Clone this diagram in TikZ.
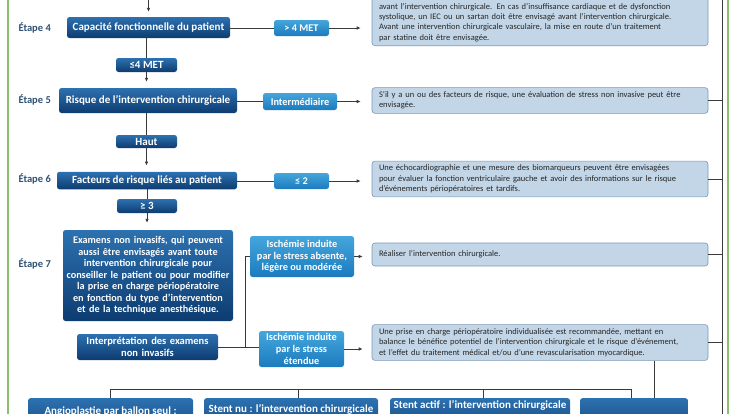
\documentclass[tikz,border=0pt]{standalone}
\usepackage{fontspec}
\setmainfont{Carlito}
\usepackage{xcolor}
\usepackage{tikz}
\usetikzlibrary{positioning, shapes, arrows, calc, arrows.meta, backgrounds}

\definecolor{navytop}{HTML}{2D71B0}
\definecolor{navybot}{HTML}{0D3C70}
\definecolor{skytop}{HTML}{45A6DC}
\definecolor{skybot}{HTML}{1B7BBE}
\definecolor{infofill}{HTML}{C2D6E7}
\definecolor{infoline}{HTML}{7A98B4}
\definecolor{steptext}{HTML}{2F5174}
\definecolor{framegreen}{HTML}{8DBE6C}
\definecolor{wiregray}{HTML}{3A3A3A}

\begin{document}
\begin{tikzpicture}[x=1pt, y=-1pt,
    mainbox/.style={rounded corners=2.5pt, top color=navytop, bottom color=navybot, text=white,
      font=\fontsize{11}{12}\selectfont\bfseries, align=center, inner sep=2pt},
    optbox/.style={rounded corners=2.5pt, top color=skytop, bottom color=skybot, text=white,
      font=\fontsize{10.3}{11.7}\selectfont\bfseries, align=center, inner sep=2pt},
    infobox/.style={rounded corners=3pt, fill=infofill, draw=infoline, line width=0.6pt, text=black!85,
      font=\fontsize{8.5}{10.3}\selectfont, align=left, text width=322pt, inner xsep=7pt, inner ysep=4pt},
    steplabel/.style={text=steptext, font=\fontsize{10.5}{12}\selectfont\bfseries, anchor=west},
    conn/.style={draw=wiregray, line width=0.75pt},
    connarrow/.style={conn, -{Latex[length=4pt,width=3.6pt]}}
  ]
        \useasboundingbox (0,0) rectangle (735,413);
        \clip (0,0) rectangle (735,413);
        % Frame
        \draw[framegreen, line width=1.4pt] (8,-10) -- (8,420);
        \draw[framegreen, line width=1.4pt] (728,-10) -- (728,420);
        % Step labels
        \node[steplabel] (e4) at (15,28) {Étape 4};
        \node[steplabel] (e5) at (15,100) {Étape 5};
        \node[steplabel] (e6) at (15,179) {Étape 6};
        \node[steplabel] (e7) at (15,264) {Étape 7};
        % Main column
        \node[mainbox, minimum width=163pt, minimum height=21pt] (cap) at (148.5,27.5) {Capacité fonctionnelle du patient};
        \node[mainbox, minimum width=61pt, minimum height=14pt] (le4) at (146.5,65) {≤4 MET};
        \node[mainbox, minimum width=178pt, minimum height=25pt] (risk) at (148,100.5) {Risque de l'intervention chirurgicale};
        \node[mainbox, minimum width=61pt, minimum height=13pt] (haut) at (146.5,141.5) {Haut};
        \node[mainbox, minimum width=180pt, minimum height=17.5pt] (fact) at (147,180.5) {Facteurs de risque liés au patient};
        \node[mainbox, minimum width=60pt, minimum height=14pt] (ge3) at (147,206) {≥ 3};
        \node[mainbox, font=\fontsize{10.2}{11.5}\selectfont\bfseries, text width=170pt, inner xsep=0pt, minimum height=91pt] (exam) at (148,275.5) {Examens non invasifs, qui peuvent\\aussi être envisagés avant toute\\intervention chirurgicale pour\\conseiller le patient ou pour modifier\\la prise en charge périopératoire\\en fonction du type d'intervention\\et de la technique anesthésique.};
        \node[mainbox, font=\fontsize{10.5}{11.7}\selectfont\bfseries, text width=137pt, minimum height=26pt] (interp) at (147.5,347) {Interprétation des examens\\non invasifs};
        % Options
        \node[optbox, minimum width=55pt, minimum height=16pt] (gt4) at (301.5,28) {> 4 MET};
        \node[optbox, minimum width=74pt, minimum height=17pt] (inter) at (300,101.5) {Intermédiaire};
        \node[optbox, minimum width=55pt, minimum height=16pt] (le2) at (301.5,181) {≤ 2};
        \node[optbox, minimum width=104pt, minimum height=41pt] (isch1) at (302,256.5) {Ischémie induite\\par le stress absente,\\légère ou modérée};
        \node[optbox, minimum width=85pt, minimum height=36pt] (isch2) at (301.5,349) {Ischémie induite\\par le stress\\étendue};
        % Recommendations
        \node[infobox, anchor=south] (info4) at (540,46) {\rule{0pt}{30pt}avant l'intervention chirurgicale. En cas d'insuffisance cardiaque et de dysfonction\\systolique, un IEC ou un sartan doit être envisagé avant l'intervention chirurgicale.\\Avant une intervention chirurgicale vasculaire, la mise en route d'un traitement\\par statine doit être envisagée.};
        \node[infobox] (info5) at (540,100.5) {S'il y a un ou des facteurs de risque, une évaluation de stress non invasive peut être\\envisagée.};
        \node[infobox] (info6) at (540,179) {Une échocardiographie et une mesure des biomarqueurs peuvent être envisagées\\pour évaluer la fonction ventriculaire gauche et avoir des informations sur le risque\\d'événements périopératoires et tardifs.};
        \node[infobox, minimum height=23pt] (reali) at (540,254.5) {Réaliser l'intervention chirurgicale.};
        \node[infobox] (prise) at (540,342.5) {Une prise en charge périopératoire individualisée est recommandée, mettant en\\balance le bénéfice potentiel de l'intervention chirurgicale et le risque d'événement,\\et l'effet du traitement médical et/ou d'une revascularisation myocardique.};
        % Bottom row
        \node[mainbox, anchor=north, minimum width=165pt, text depth=30pt] (bx1) at (110.5,398) {\rule{0pt}{14pt}Angioplastie par ballon seul :};
        \node[mainbox, anchor=north, minimum width=174pt, text depth=30pt] (bx2) at (291,398) {\rule{0pt}{12.5pt}Stent nu : l'intervention chirurgicale};
        \node[mainbox, anchor=north, minimum width=180pt, text depth=30pt] (bx3) at (480,398) {\rule{0pt}{8pt}Stent actif : l'intervention chirurgicale};
        \node[mainbox, anchor=north, minimum width=108pt, text depth=30pt] (bx4) at (634,398) {\rule{0pt}{10pt}};
        % Vertical flow
        \coordinate (in4) at (148.5,-6);
        \draw[connarrow, shorten >=5pt] (in4) -- (cap.north);
        \draw[conn] (cap.south -| le4.north) -- (le4.north);
        \draw[connarrow, shorten >=6pt] (le4.south) -- (le4.south |- risk.north);
        \draw[conn] (risk.south -| haut.north) -- (haut.north);
        \draw[connarrow, shorten >=6pt] (haut.south) -- (haut.south |- fact.north);
        \draw[conn] (fact.south -| ge3.north) -- (ge3.north);
        \draw[connarrow, shorten >=7pt] (ge3.south) -- (ge3.south |- exam.north);
        % Side branches
        \draw[conn] (cap.east |- gt4.west) -- (gt4.west);
        \draw[connarrow, shorten >=11pt] (gt4.east) -- (gt4.east -| info4.west);
        \draw[conn] (risk.east |- inter.west) -- (inter.west);
        \draw[connarrow, shorten >=11pt] (inter.east) -- (inter.east -| info5.west);
        \draw[conn] (fact.east |- le2.west) -- (le2.west);
        \draw[connarrow, shorten >=11pt] (le2.east) -- (le2.east -| info6.west);
        % Step 7 split
        \coordinate (split) at ($(interp.east)+(27,0)$);
        \draw[conn] (interp.east) -- (interp.east -| isch2.west);
        \draw[conn] (split) |- (isch1.west);
        \draw[connarrow, shorten >=9pt] (isch1.east) -- (isch1.east -| reali.west);
        \draw[connarrow, shorten >=9pt] (isch2.east) -- (isch2.east -| prise.west);
        % Right rail
        \coordinate (railtop) at (722,-10);
        \coordinate (railbot) at (722,420);
        \draw[conn] (railtop) -- (railbot);
        \foreach \n in {info5,info6,reali,prise} {\draw[conn] (\n.east) -- (\n.east -| railtop);}
        % Down to the bottom row
        \coordinate (drop) at ($(prise.south)+(114,0)$);
        \draw[conn] (drop) -- (drop |- bx4.north);
        \coordinate (brk) at (0,389);
        \draw[conn] ([xshift=-3pt]bx4.north) |- (bx1.north |- brk) -- (bx1.north);
        \draw[conn] ([xshift=7pt]bx2.north) -- ([xshift=7pt]bx2.north |- brk);
        \draw[conn] ([xshift=3pt]bx3.north) -- ([xshift=3pt]bx3.north |- brk);
      \end{tikzpicture}
\end{document}
